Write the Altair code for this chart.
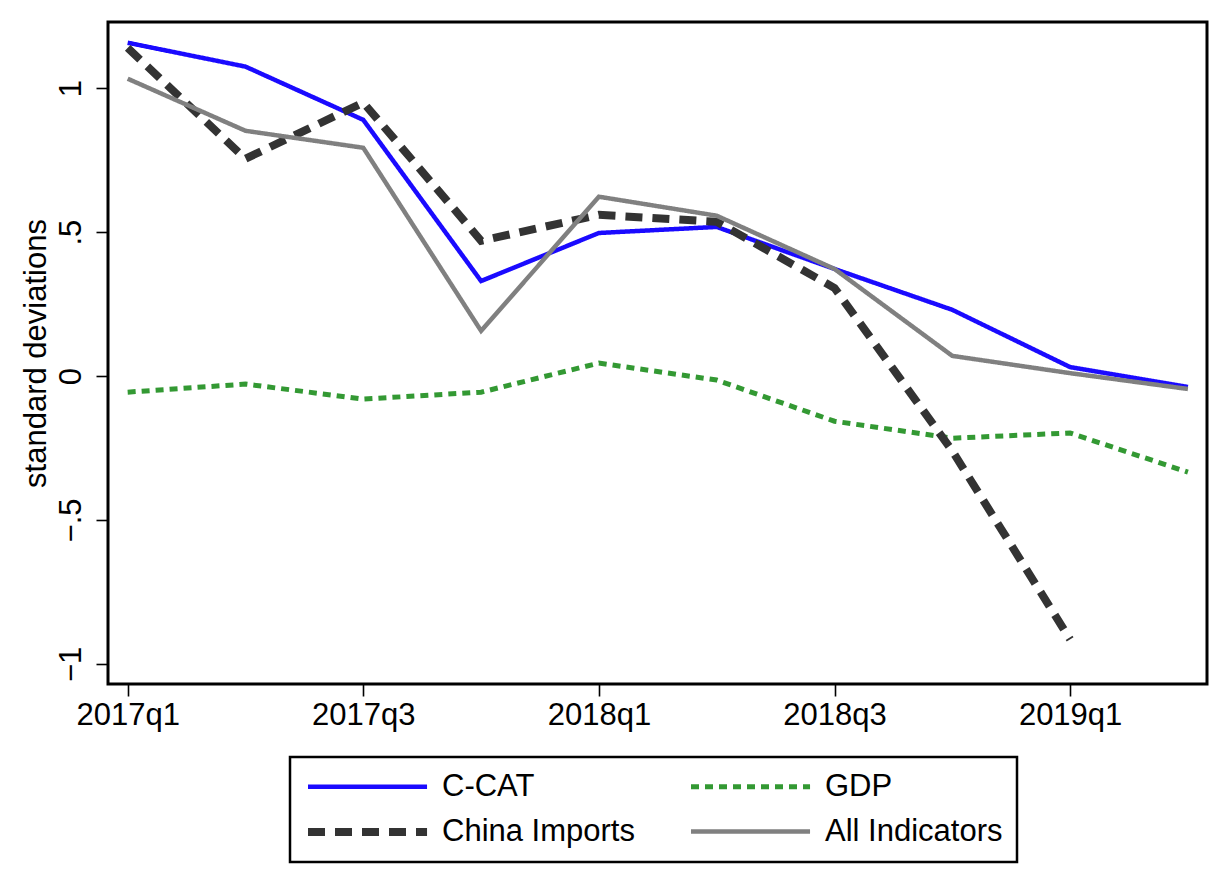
import json
import altair as alt
import pandas as pd

quarters = ["2017q1", "2017q2", "2017q3", "2017q4", "2018q1",
            "2018q2", "2018q3", "2018q4", "2019q1", "2019q2"]

ccat = [1.158, 1.075, 0.890, 0.330, 0.497, 0.518, 0.372, 0.230, 0.031, -0.038]
gdp = [-0.056, -0.028, -0.080, -0.056, 0.045, -0.014, -0.157, -0.216, -0.198, -0.334]
china_imports = [1.140, 0.755, 0.950, 0.470, 0.560, 0.536, 0.306, -0.260, -0.915]
all_indicators = [1.033, 0.852, 0.793, 0.157, 0.623, 0.557, 0.372, 0.070, 0.010, -0.045]

series_names = ["C-CAT", "GDP", "China Imports", "All Indicators"]
series_values = [ccat, gdp, china_imports, all_indicators]
series_colors = ["#1a0aff", "#339933", "#333333", "#808080"]
series_dash = [[1, 0], [8, 6], [17, 10], [1, 0]]
series_width = [4.5, 5, 8, 4.5]

rows = []
for name, vals in zip(series_names, series_values):
    for i, v in enumerate(vals):
        rows.append({"series": name, "t": i, "quarter": quarters[i], "value": v})
df = pd.DataFrame(rows)

FONT = "Liberation Sans"
FS = 31

x_label_expr = json.dumps(quarters) + "[datum.value]"
y_label_expr = "datum.value == 0 ? '0' : replace(format(datum.value, '.1~f'), '0.', '.')"

# legend symbol: a long horizontal stroke (unit path scaled by sqrt(size)/2 = 12)
legend_symbol = "M-1,0L8.92,0"

chart = alt.Chart(df).mark_line(strokeCap="butt").encode(
    x=alt.X("t:Q",
            scale=alt.Scale(domain=[-0.167, 9.162], nice=False, zero=False),
            axis=alt.Axis(values=[0, 2, 4, 6, 8], labelExpr=x_label_expr, title=None,
                          grid=False, domain=False, tickSize=12, tickWidth=1.6,
                          tickColor="black", labelFontSize=FS, labelFont=FONT,
                          labelColor="black", labelPadding=4, labelFlush=False)),
    y=alt.Y("value:Q",
            scale=alt.Scale(domain=[-1.07, 1.23], nice=False, zero=False),
            axis=alt.Axis(values=[-1, -0.5, 0, 0.5, 1], labelExpr=y_label_expr,
                          title="standard deviations", grid=False, domain=False,
                          tickSize=12, tickWidth=1.6, tickColor="black",
                          labelFontSize=FS, labelFont=FONT, labelColor="black",
                          labelAngle=270, labelAlign="center", labelBaseline="alphabetic",
                          labelPadding=16,
                          titleFontSize=FS, titleFont=FONT, titleFontWeight="normal",
                          titleColor="black", titleAngle=270, titleAlign="center",
                          titleBaseline="alphabetic", titleX=-63, titleY=331)),
    color=alt.Color("series:N",
                    scale=alt.Scale(domain=series_names, range=series_colors),
                    sort=series_names,
                    legend=alt.Legend(title=None, orient="none", legendX=182, legendY=735,
                                      direction="horizontal", columns=2)),
    strokeDash=alt.StrokeDash("series:N",
                              scale=alt.Scale(domain=series_names, range=series_dash),
                              sort=series_names,
                              legend=alt.Legend(title=None)),
    strokeWidth=alt.StrokeWidth("series:N",
                                scale=alt.Scale(type="ordinal", domain=series_names,
                                                range=series_width),
                                sort=series_names,
                                legend=alt.Legend(title=None)),
    order=alt.Order("t:Q"),
).properties(
    width=1099, height=662,
    autosize=alt.AutoSizeParams(type="none"),
    padding={"left": 100, "top": 14, "right": 10, "bottom": 190},
).configure_view(
    stroke="black", strokeWidth=3, fill="white"
).configure_legend(
    symbolType=legend_symbol, symbolSize=576,
    labelFont=FONT, labelFontSize=FS, labelColor="black", labelOffset=106,
    labelLimit=500,
    columnPadding=46, rowPadding=13, padding=14,
    strokeColor="black", strokeWidth=2.5, fillColor="white",
)

chart.save("out.html", embed_options={"renderer": "svg", "actions": False})
